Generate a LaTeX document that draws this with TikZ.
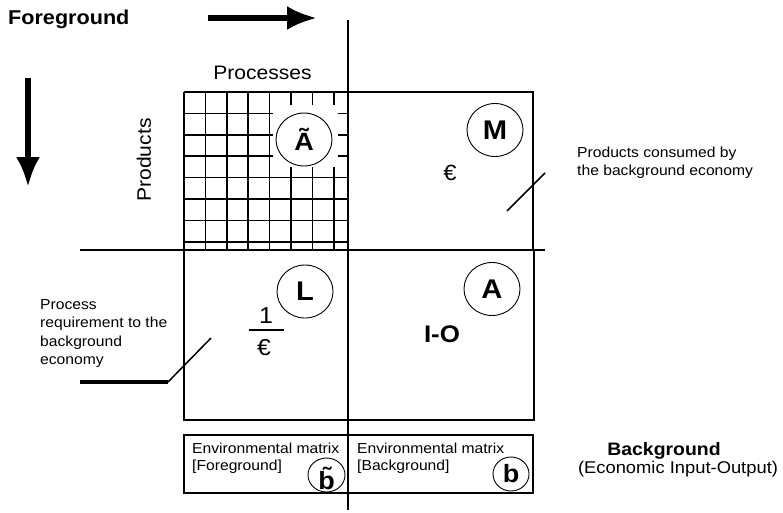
\documentclass[tikz,border=0pt]{standalone}
\usepackage{fontspec}
\setmainfont{Liberation Sans}[FakeStretch=1.08]
\usetikzlibrary{arrows.meta,shapes.geometric}
\begin{document}
\begin{tikzpicture}[x=1pt,y=-1pt,
  lbl/.style={font=\fontsize{14.5}{18.3}\selectfont, align=left, inner sep=0pt, anchor=north west},
  envtext/.style={font=\fontsize{14.5}{14.5}\selectfont, inner sep=0pt, anchor=base west},
  circ/.style={ellipse, draw, line width=0.9pt, minimum width=56pt, minimum height=53pt, inner sep=0pt, font=\bfseries\fontsize{27}{27}\selectfont},
  smallcirc/.style={ellipse, draw, line width=0.9pt, minimum width=36pt, minimum height=34pt, inner sep=0pt, font=\bfseries\fontsize{25}{25}\selectfont},
  gridline/.style={line width=1.7pt},
  frame/.style={line width=1.3pt},
  mainline/.style={line width=2pt},
  bigarrow/.style={line width=5.5pt, -{Latex[length=30pt,width=24pt]}},
]
\useasboundingbox (0,0) rectangle (783,512);

% grid (foreground technology matrix)
\foreach \i in {1,...,4} \draw[gridline] ({184+21.4*\i},92) -- ({184+21.4*\i},250);
\foreach \i in {5,6,7} {
  \draw[gridline] ({184+21.4*\i},92) -- ({184+21.4*\i},105);
  \draw[gridline] ({184+21.4*\i},167) -- ({184+21.4*\i},250);
}
\foreach \j in {1,2,3} {
  \draw[gridline] (184,{92+21.4*\j}) -- (273,{92+21.4*\j});
  \draw[gridline] (337.7,{92+21.4*\j}) -- (348,{92+21.4*\j});
}
\foreach \j in {4,...,7} \draw[gridline] (184,{92+21.4*\j}) -- (348,{92+21.4*\j});
\draw[gridline] (184,92) -- (348,92);

% quadrant frames
\draw[frame] (348,92) -- (533,92) -- (533,250);
\draw[frame] (184,92) -- (184,420) -- (534,420) -- (534,250);
\draw[frame] (184,435) rectangle (533,493);

% main axes
\coordinate (v0) at (348,20);
\coordinate (v1) at (348,510);
\coordinate (h0) at (80,250);
\coordinate (h1) at (545,250);
\draw[mainline] (v0) -- (v1);
\draw[mainline] (h0) -- (h1);

% arrows
\coordinate (ta0) at (208,18);
\coordinate (ta1) at (317,18);
\draw[bigarrow] (ta0) -- (ta1);
\coordinate (la0) at (28,78);
\coordinate (la1) at (28,187);
\draw[bigarrow] (la0) -- (la1);

% titles
\node[anchor=base west, inner sep=0pt, font=\bfseries\fontsize{20}{20}\selectfont] (fg) at (8,24) {Foreground};
\node[anchor=base, inner sep=0pt, font=\fontsize{19.5}{19.5}\selectfont] (proc) at (262.5,79) {Processes};
\node[rotate=90, inner sep=0pt, font=\fontsize{19.5}{19.5}\selectfont] (prod) at (144,160) {Products};

% circles
\node[circ, font=\bfseries\fontsize{25}{25}\selectfont] (At) at (304,139.5) {Ã};
\node[circ] (M) at (495,130) {M};
\node[circ] (L) at (305,291.5) {L};
\node[circ] (A) at (492,289) {A};
\node[smallcirc, minimum width=37pt, minimum height=34pt] (bt) at (326.5,475) {};
\node[anchor=base, inner sep=0pt, font=\bfseries\fontsize{25}{25}\selectfont] (btb) at (326.5,489) {b̃};
\node[smallcirc] (b) at (511,474) {b};

% quadrant contents
\node[inner sep=0pt, font=\fontsize{22}{22}\selectfont] (euroM) at (450,173) {€};
\node[inner sep=0pt, font=\fontsize{23}{23}\selectfont] (one) at (266,316) {1};
\node[inner sep=0pt, font=\fontsize{23}{23}\selectfont] (euroL) at (264,348) {€};
\coordinate (fb0) at (249,330);
\coordinate (fb1) at (284,330);
\draw[line width=1.8pt] (fb0) -- (fb1);
\node[inner sep=0pt, font=\bfseries\fontsize{24}{24}\selectfont] (IO) at (442,334) {I-O};

% labels
\node[lbl] (plab) at (40,299.5) {Process\\requirement to the\\background\\economy};
\node[lbl] (clab) at (577,146.5) {Products consumed by\\the background economy};
\node[envtext] (envF1) at (192,453) {Environmental matrix};
\node[envtext] (envF2) at (192,470) {[Foreground]};
\node[envtext] (envB1) at (357,453) {Environmental matrix};
\node[envtext] (envB2) at (357,470) {[Background]};
\node[anchor=base, inner sep=0pt, font=\bfseries\fontsize{18}{18}\selectfont] (bg) at (664,455) {Background};
\node[anchor=base, inner sep=0pt, font=\fontsize{17}{17}\selectfont] (eio) at (678,473) {(Economic Input-Output)};

% label connectors
\coordinate (lc0) at (80,382);
\coordinate (lc1) at (168,382);
\coordinate (lc2) at (211,338);
\draw[line width=4pt] (lc0) -- (lc1);
\draw[line width=1.5pt] (lc1) -- (lc2);
\coordinate (rc1) at (507,211);
\coordinate (rc2) at (545,173);
\draw[line width=1.5pt] (rc1) -- (rc2);
\end{tikzpicture}
\end{document}
